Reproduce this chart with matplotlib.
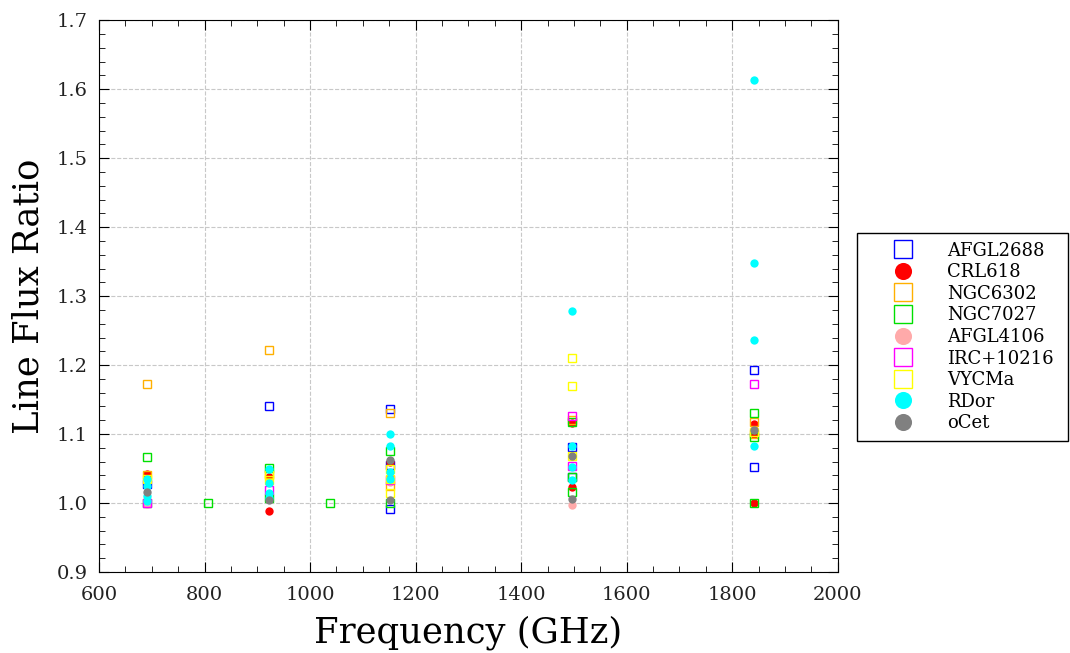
import matplotlib
matplotlib.use('Agg')
import matplotlib.pyplot as plt
from matplotlib.ticker import MultipleLocator

plt.rcParams['font.family'] = 'DejaVu Serif'

# line frequencies (GHz) and measured flux ratios per source
afgl2688_f = [691, 922, 1152, 1152, 1152, 1497, 1497, 1841, 1841]
afgl2688_r = [1.028, 1.141, 1.136, 1.055, 0.992, 1.081, 1.038, 1.193, 1.052]

crl618_f = [691, 922, 922, 1152, 1497, 1497, 1841, 1841, 1841]
crl618_r = [1.042, 1.038, 0.988, 1.060, 1.116, 1.023, 1.115, 1.100, 1.000]

ngc6302_f = [691, 691, 922, 922, 1152, 1152, 1497, 1841, 1841]
ngc6302_r = [1.172, 1.040, 1.222, 1.042, 1.130, 1.025, 1.120, 1.117, 1.100]

ngc7027_f = [691, 691, 807, 922, 922, 1038, 1152, 1152, 1497, 1497, 1497, 1841, 1841, 1841]
ngc7027_r = [1.067, 1.000, 1.000, 1.051, 1.008, 1.000, 1.075, 1.000, 1.117, 1.038, 1.016, 1.130, 1.096, 1.000]

afgl4106_f = [691, 1152, 1497]
afgl4106_r = [0.998, 1.030, 0.997]

irc10216_f = [691, 922, 1152, 1497, 1497, 1841]
irc10216_r = [1.000, 1.019, 1.033, 1.126, 1.054, 1.172]

vycma_f = [691, 922, 922, 1152, 1152, 1152, 1497, 1497, 1497, 1841]
vycma_r = [1.035, 1.040, 1.033, 1.050, 1.035, 1.015, 1.210, 1.170, 1.068, 1.103]

rdor_f = [691, 691, 691, 691, 922, 922, 922, 922, 1152, 1152, 1152, 1152,
          1497, 1497, 1497, 1497, 1841, 1841, 1841, 1841]
rdor_r = [1.035, 1.025, 1.010, 1.003, 1.050, 1.029, 1.015, 1.008, 1.100, 1.083, 1.045, 1.035,
          1.278, 1.083, 1.052, 1.033, 1.613, 1.348, 1.236, 1.083]

ocet_f = [691, 922, 1152, 1152, 1497, 1497, 1841]
ocet_r = [1.016, 1.004, 1.063, 1.005, 1.068, 1.006, 1.106]

fig = plt.figure(figsize=(10.70, 6.53), dpi=100)
ax = fig.add_axes([0.0925, 0.124, 0.6905, 0.845])

ms = 6
sq = dict(marker='s', linestyle='none', markerfacecolor='none', markersize=ms, markeredgewidth=1.0)
ci = dict(marker='o', linestyle='none', markersize=ms, markeredgewidth=0)

ax.plot(afgl2688_f, afgl2688_r, color='#0000ff', label='AFGL2688', **sq)
ax.plot(crl618_f, crl618_r, color='#ff0000', label='CRL618', **ci)
ax.plot(ngc6302_f, ngc6302_r, color='#ffb000', label='NGC6302', **sq)
ax.plot(ngc7027_f, ngc7027_r, color='#00e000', label='NGC7027', **sq)
ax.plot(afgl4106_f, afgl4106_r, color='#ffaaaa', label='AFGL4106', **ci)
ax.plot(irc10216_f, irc10216_r, color='#ff00ff', label='IRC+10216', **sq)
ax.plot(vycma_f, vycma_r, color='#ffff00', label='VYCMa', **sq)
ax.plot(rdor_f, rdor_r, color='#00ffff', label='RDor', **ci)
ax.plot(ocet_f, ocet_r, color='#808080', label='oCet', **ci)

ax.set_xlim(600, 2000)
ax.set_ylim(0.9, 1.7)
ax.xaxis.set_major_locator(MultipleLocator(200))
ax.xaxis.set_minor_locator(MultipleLocator(50))
ax.yaxis.set_major_locator(MultipleLocator(0.1))
ax.yaxis.set_minor_locator(MultipleLocator(0.02))
ax.tick_params(which='both', direction='in', top=True, right=True, labelsize=14, labelcolor='#222222')
ax.tick_params(axis='x', which='major', pad=10)
ax.tick_params(axis='y', which='major', pad=8)
ax.tick_params(which='major', length=7)
ax.tick_params(which='minor', length=4)
ax.grid(True, which='major', color='#c8c8c8', linestyle='--', linewidth=0.8)

ax.set_xlabel('Frequency (GHz)', fontsize=25.5, labelpad=8)
ax.set_ylabel('Line Flux Ratio', fontsize=25.5, labelpad=8)

# legend outside on the right, stretched to the reference box width
leg = ax.legend(loc='center left', bbox_to_anchor=(1.0257, 0.426, 0.2855, 0), mode='expand',
                fontsize=13, markerscale=2.05, fancybox=False, edgecolor='black',
                handletextpad=0.35, labelspacing=0.2, borderpad=0.45, handlelength=4.2,
                borderaxespad=0, framealpha=1)
leg.get_frame().set_linewidth(1.0)

fig.savefig('out.png', dpi=100)
